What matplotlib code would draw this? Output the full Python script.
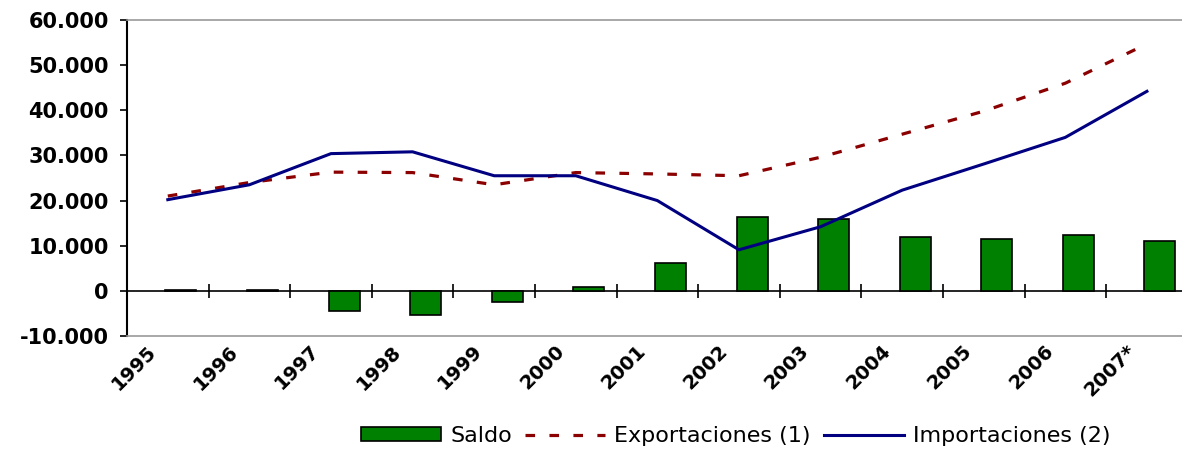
import matplotlib.pyplot as plt
import numpy as np

# datos (millones)
anios = ['1995', '1996', '1997', '1998', '1999', '2000', '2001',
         '2002', '2003', '2004', '2005', '2006', '2007*']
saldo = [300, 300, -4400, -5300, -2400, 900, 6200,
         16400, 15900, 12000, 11500, 12400, 11100]
exportaciones = [21000, 24000, 26300, 26200, 23500, 26200, 25900,
                 25500, 29600, 34700, 39800, 46000, 54700]
importaciones = [20200, 23500, 30400, 30800, 25500, 25500, 20000,
                 9100, 14200, 22300, 28100, 34000, 44200]

x = np.arange(len(anios))

fig = plt.figure(figsize=(11.82, 4.51), dpi=100)
ax = fig.add_axes([127/1182, 1 - 336/451, 1 - 127/1182, (336 - 20)/451])

b = ax.bar(x + 0.16, saldo, width=0.38, color='#008000', edgecolor='black',
           linewidth=1.2, label='Saldo', zorder=2)
l1, = ax.plot(x, exportaciones, color='#8B0000', lw=2.3, linestyle=(0, (3, 4.5)),
              label='Exportaciones (1)', zorder=3)
l2, = ax.plot(x, importaciones, color='#000080', lw=2.2,
              label='Importaciones (2)', zorder=4)

ax.set_xlim(-0.5, 12.43)
ax.set_ylim(-10000, 60000)
ax.set_yticks(np.arange(-10000, 60001, 10000))
ax.set_yticklabels([f'{v:,}'.replace(',', '.') for v in range(-10000, 60001, 10000)],
                   fontsize=15, fontweight='bold')
ax.tick_params(axis='y', direction='out', length=5, width=1.2, pad=8)

# etiquetas del eje x
ax.set_xticks(x - 0.26)
ax.set_xticklabels(anios, rotation=45, ha='right', va='top',
                   rotation_mode='anchor', fontsize=14, fontweight='bold')
ax.tick_params(axis='x', length=0, pad=4)

# linea del cero con marcas entre categorias
sec = ax.secondary_xaxis(10000/70000)
sec.set_xticks(np.arange(len(anios)) + 0.5)
sec.tick_params(direction='inout', length=10, width=1.2, labelbottom=False)
sec.spines['bottom'].set_linewidth(1.2)
sec.spines['bottom'].set_color('black')

ax.spines['right'].set_visible(False)
ax.spines['top'].set_color('#999999')
ax.spines['bottom'].set_color('#999999')
ax.spines['top'].set_linewidth(1.2)
ax.spines['bottom'].set_linewidth(1.2)
ax.spines['left'].set_linewidth(1.5)

fig.legend([b, l1, l2], ['Saldo', 'Exportaciones (1)', 'Importaciones (2)'],
           loc='center', bbox_to_anchor=(736/1182, 1 - 436/451), ncol=3,
           frameon=False, fontsize=16, handlelength=3.6, handletextpad=0.4,
           columnspacing=0.6, handleheight=0.6)

fig.savefig('out.png', dpi=100, facecolor='white')
